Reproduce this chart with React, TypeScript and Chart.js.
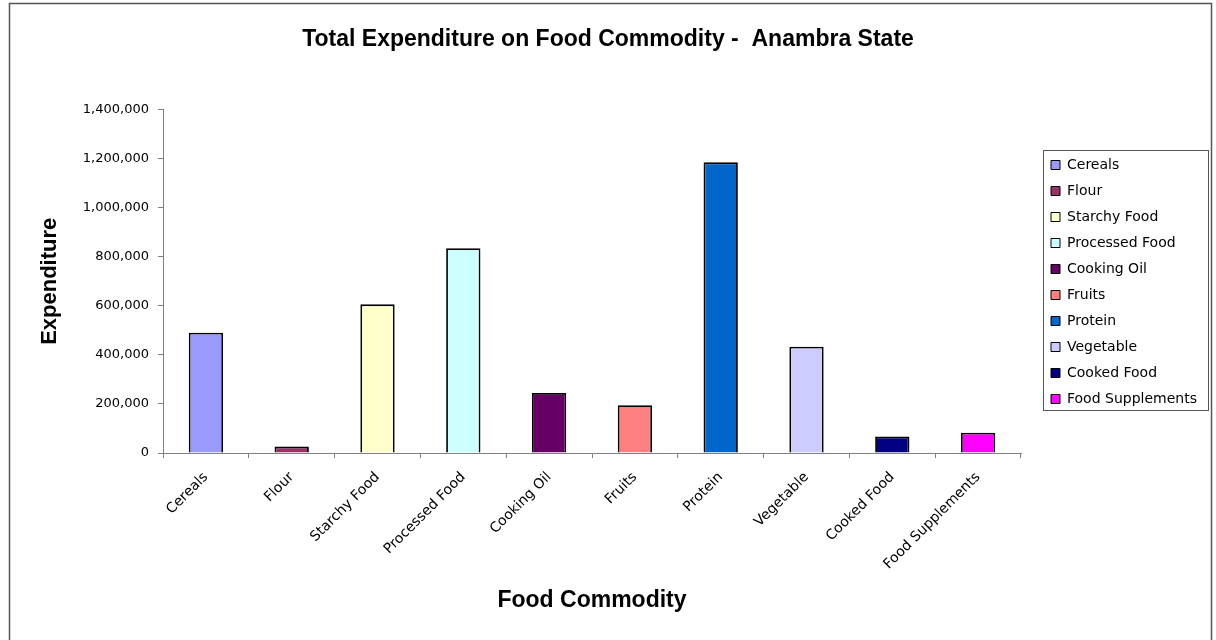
import React, { useEffect, useRef } from "react";
import { Chart, registerables } from "chart.js";

Chart.register(...registerables);

const categories = [
  "Cereals",
  "Flour",
  "Starchy Food",
  "Processed Food",
  "Cooking Oil",
  "Fruits",
  "Protein",
  "Vegetable",
  "Cooked Food",
  "Food Supplements",
];

const expenditure = [490000, 26000, 606000, 835000, 245000, 195000, 1185000, 433000, 67000, 83000];

const barColors = [
  "#9999FF",
  "#993366",
  "#FFFFCC",
  "#CCFFFF",
  "#660066",
  "#FF8080",
  "#0066CC",
  "#CCCCFF",
  "#000080",
  "#FF00FF",
];

const yTickMin = 0;
const yTickMax = 1400000;
const yTickStep = 200000;

const chartTitle = "Total Expenditure on Food Commodity -  Anambra State";
const xTitle = "Food Commodity";
const yTitle = "Expenditure";

const W = 1216;
const H = 640;

const framePlugin = {
  id: "frame",
  beforeDraw(chart: any) {
    const ctx = chart.ctx;
    ctx.save();
    ctx.fillStyle = "#ffffff";
    ctx.fillRect(0, 0, chart.width, chart.height);
    ctx.strokeStyle = "#555555";
    ctx.lineWidth = 1.5;
    ctx.strokeRect(9.5, 3.5, 1202, 700);
    ctx.restore();
  },
};

const legendPlacePlugin = {
  id: "legendPlace",
  afterLayout(chart: any) {
    const lg = chart.legend;
    if (!lg) return;
    const w = lg.width;
    const h = lg.height;
    lg.left = 1039;
    lg.top = 146;
    lg.right = lg.left + w;
    lg.bottom = lg.top + h;
  },
  afterDraw(chart: any) {
    const lg = chart.legend;
    if (!lg) return;
    const ctx = chart.ctx;
    ctx.save();
    ctx.strokeStyle = "#555555";
    ctx.lineWidth = 1;
    ctx.strokeRect(lg.left + 4.5, lg.top + 4.5, 165, 260);
    ctx.restore();
  },
};

const boldFont = "'Liberation Sans', Arial, sans-serif";
const tickFont = "'DejaVu Sans', sans-serif";

export default function App() {
  const ref = useRef<HTMLCanvasElement | null>(null);

  useEffect(() => {
    if (!ref.current) return;
    const chart = new Chart(ref.current, {
      type: "bar",
      data: {
        labels: categories,
        datasets: [
          {
            label: "Expenditure",
            data: expenditure,
            backgroundColor: barColors,
            borderColor: "#000000",
            borderWidth: 1.8,
            categoryPercentage: 1,
            barPercentage: 0.4,
            xAxisID: "x",
            yAxisID: "y",
          },
        ],
      },
      options: {
        animation: false,
        responsive: false,
        devicePixelRatio: 1,
        layout: { padding: 0 },
        plugins: {
          title: {
            display: true,
            text: chartTitle,
            color: "#000000",
            font: { family: boldFont, size: 23, weight: "bold" },
            padding: { top: 26, bottom: 56 },
          },
          legend: {
            display: true,
            position: "chartArea" as any,
            align: "start",
            labels: {
              color: "#000000",
              font: { family: tickFont, size: 14 },
              boxWidth: 9,
              boxHeight: 9,
              padding: 12,
              generateLabels: () =>
                categories.map((c, i) => ({
                  text: c,
                  fillStyle: barColors[i],
                  strokeStyle: "#000000",
                  lineWidth: 1,
                  hidden: false,
                  index: i,
                  datasetIndex: 0,
                  fontColor: "#000000",
                })),
            },
          },
          tooltip: { enabled: false },
        },
        scales: {
          x: {
            type: "category",
            offset: true,
            afterFit: (scale: any) => {
              scale.height = 187;
            },
            grid: {
              display: true,
              offset: true,
              drawOnChartArea: false,
              drawTicks: true,
              tickLength: 5,
              color: "#808080",
            },
            border: { display: true, color: "#808080", width: 1 },
            ticks: {
              minRotation: 45,
              maxRotation: 45,
              autoSkip: false,
              padding: 11,
              color: "#000000",
              font: { family: tickFont, size: 14 },
            },
            title: {
              display: true,
              text: xTitle,
              color: "#000000",
              font: { family: boldFont, size: 23, weight: "bold" },
              padding: { top: 0, bottom: 26 },
            },
          },
          y: {
            min: yTickMin,
            max: yTickMax,
            afterFit: (scale: any) => {
              scale.width = 163;
            },
            grid: {
              display: true,
              drawOnChartArea: false,
              drawTicks: true,
              tickLength: 5,
              color: "#808080",
            },
            border: { display: true, color: "#808080", width: 1 },
            ticks: {
              stepSize: yTickStep,
              padding: 9,
              color: "#000000",
              font: { family: tickFont, size: 13 },
              callback: (v: any) => Number(v).toLocaleString("en-US"),
            },
            title: {
              display: true,
              text: yTitle,
              color: "#000000",
              font: { family: boldFont, size: 22, weight: "bold" },
              padding: { top: 37, bottom: 0 },
            },
          },
          legendSpace: {
            type: "linear",
            position: "right",
            display: true,
            afterFit: (scale: any) => {
              scale.width = 195;
            },
            grid: { display: false, drawTicks: false },
            border: { display: false },
            ticks: { display: false },
            title: { display: false },
          },
        },
      },
      plugins: [framePlugin, legendPlacePlugin],
    });
    return () => chart.destroy();
  }, []);

  return (
    <div style={{ position: "fixed", left: 0, top: 0, width: W, height: H, background: "#fff" }}>
      <canvas ref={ref} width={W} height={H} style={{ display: "block", width: W, height: H }} />
    </div>
  );
}
